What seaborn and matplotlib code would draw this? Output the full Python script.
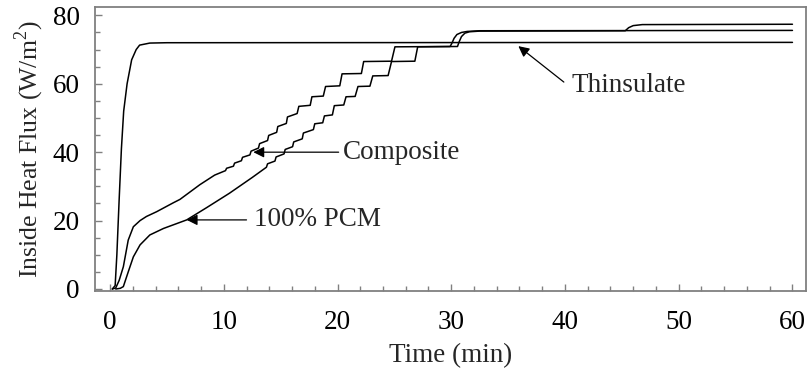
"""
Inside heat flux vs time for Thinsulate, Composite and 100% PCM.
"""

import numpy as np
import pandas as pd
import matplotlib
matplotlib.use("Agg")
import matplotlib.pyplot as plt
import seaborn as sns

# --- data (time in min, flux in W/m^2) ---
thin_t = [0.2, 0.45, 0.6, 0.8, 1.0, 1.2, 1.5, 1.9, 2.3, 2.6, 3.5, 5.0, 60.0]
thin_q = [0.0, 1.0, 10.0, 26.0, 41.0, 52.0, 60.0, 67.0, 70.0, 71.3, 71.9, 72.0, 72.1]

comp_t = [0.2, 0.5, 0.8, 1.17, 1.6, 2.05, 2.64, 3.2, 4.1, 5.56, 6.15, 7.9, 9.2,
          10.15, 10.25, 10.85, 10.95, 11.55, 11.65, 12.3, 12.4, 13.05, 13.15,
          13.85, 13.95, 14.65, 14.75, 15.5, 15.6, 16.45, 16.6, 17.6, 17.75,
          18.75, 18.95, 20.2, 20.4, 22.1, 22.3, 24.75, 25.05, 29.9, 30.05,
          30.25, 30.5, 30.9, 31.4, 32.5, 60.0]
comp_q = [0.0, 0.3, 2.5, 6.5, 14.3, 18.2, 20.0, 21.2, 22.6, 25.2, 26.2, 30.5, 33.3,
          34.6, 35.3, 35.9, 36.8, 37.5, 38.5, 39.2, 40.3, 41.2, 42.5,
          43.4, 44.9, 45.8, 47.5, 48.4, 50.3, 51.3, 53.4, 53.7, 56.2,
          56.4, 59.2, 59.4, 62.9, 63.0, 66.5, 66.6, 70.8, 70.9, 71.8,
          73.3, 74.4, 75.0, 75.3, 75.5, 75.6]

pcm_t = [0.5, 0.9, 1.17, 1.6, 2.05, 2.64, 3.5, 4.7, 6.74, 8.5, 10.5, 12.5,
         13.75, 13.85, 14.5, 14.6, 15.3, 15.4, 16.05, 16.15, 16.9, 17.0,
         17.88, 18.0, 18.7, 18.85, 19.55, 19.72, 20.55, 20.75, 21.55, 21.8,
         22.85, 23.1, 24.45, 24.75, 26.8, 27.05, 30.55, 30.7, 30.9, 31.2,
         31.6, 32.5, 45.3, 45.6, 46.0, 46.8, 60.0]
pcm_q = [0.0, 0.2, 0.7, 5.0, 9.4, 12.9, 15.8, 17.7, 20.2, 23.8, 28.0, 32.6,
         35.6, 36.6, 37.4, 38.6, 39.5, 40.8, 41.6, 43.0, 43.9, 45.6,
         46.6, 48.3, 48.6, 50.6, 50.9, 53.6, 53.8, 56.2, 56.3, 59.2,
         59.3, 62.3, 62.4, 66.5, 66.6, 70.8, 70.9, 72.3, 73.8, 74.8,
         75.2, 75.4, 75.5, 76.4, 77.0, 77.3, 77.4]

x_ticks = [0, 10, 20, 30, 40, 50, 60]
y_ticks = [0, 20, 40, 60, 80]

sns.set_theme(style="ticks")
plt.rcParams["font.family"] = ["Liberation Serif", "DejaVu Serif"]
plt.rcParams["mathtext.fontset"] = "custom"
plt.rcParams["mathtext.rm"] = "Liberation Serif"

fig = plt.figure(figsize=(8.08, 3.71), dpi=100)
ax = fig.add_axes([0.1176, 0.2143, 0.8799, 0.7655])

for t, q in [(thin_t, thin_q), (comp_t, comp_q), (pcm_t, pcm_q)]:
    df = pd.DataFrame({"t": t, "q": q})
    sns.lineplot(data=df, x="t", y="q", ax=ax, color="black", linewidth=1.1,
                 estimator=None, sort=False)

ax.set_xlim(-1.32, 61.19)
ax.set_ylim(-0.73, 82.3)
ax.set_xticks(x_ticks)
ax.set_yticks(y_ticks)
ax.set_xticks(np.arange(0, 61, 2), minor=True)
ax.set_yticks(np.arange(0, 81, 5), minor=True)
ax.tick_params(which="both", direction="in", color="#808080", width=1.0,
               labelsize=19.5, colors="black", top=False, right=False)
ax.tick_params(which="major", length=5)
ax.tick_params(which="minor", length=3.5)
ax.tick_params(axis="x", which="major", pad=13)
ax.tick_params(axis="y", which="major", pad=11)
for s in ax.spines.values():
    s.set_color("#808080")
    s.set_linewidth(1.3)

ax.set_xlabel("Time (min)", fontsize=19.5, labelpad=6)
ax.set_ylabel("Inside Heat Flux (W/m$^2$)", fontsize=18.5, labelpad=5)

arrow = dict(arrowstyle="-|>", color="black", lw=0.9, mutation_scale=16,
             shrinkA=0, shrinkB=0)
ax.annotate("", xy=(35.9, 71.0), xytext=(39.9, 60.5), arrowprops=arrow)
ax.text(40.6, 59.4, "Thinsulate", fontsize=19.5, va="center", ha="left")
ax.annotate("", xy=(12.6, 40.0), xytext=(20.1, 40.0), arrowprops=arrow)
ax.text(20.5, 40.0, "Composite", fontsize=19.5, va="center", ha="left")
ax.annotate("", xy=(6.74, 20.2), xytext=(12.0, 20.2), arrowprops=arrow)
ax.text(12.7, 20.2, "100% PCM", fontsize=19.5, va="center", ha="left")

fig.savefig("out.png", dpi=100)
